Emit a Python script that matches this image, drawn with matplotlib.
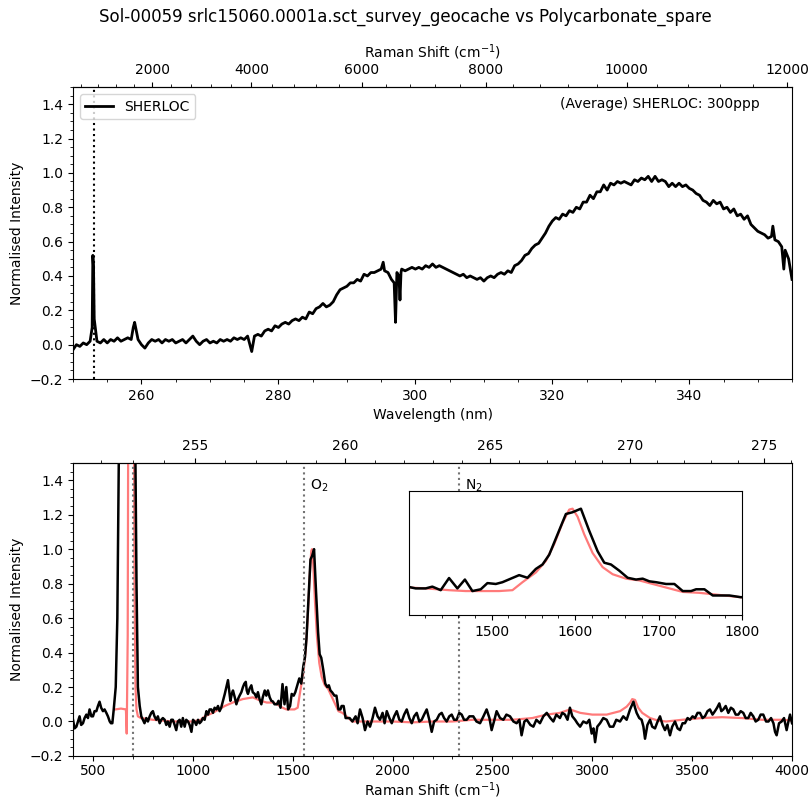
import numpy as np
import matplotlib
matplotlib.use("Agg")
import matplotlib.pyplot as plt
from matplotlib.ticker import MultipleLocator, AutoMinorLocator, FixedLocator

LASER_NM = 248.6

title_text = "Sol-00059 srlc15060.0001a.sct_survey_geocache vs Polycarbonate_spare"
annot_text = "(Average) SHERLOC: 300ppp"

# ---- top panel: SHERLOC survey spectrum (wavelength nm, normalised intensity)
top_spectrum = [
    (250.0, -0.03), (250.5, 0.00), (251.0, -0.01), (251.5, 0.01), (252.0, 0.00), (252.5, 0.02),
    (252.8, 0.10), (252.9, 0.52), (253.0, 0.45), (253.1, 0.15),
    (253.5, 0.02), (254.0, 0.01), (254.5, 0.03), (255.0, 0.01), (255.5, 0.03), (256.0, 0.02),
    (256.5, 0.04), (257.0, 0.02), (257.5, 0.03), (258.0, 0.04), (258.5, 0.03),
    (258.8, 0.10), (259.0, 0.13), (259.3, 0.07),
    (259.5, 0.03), (260.0, 0.00), (260.5, -0.02), (261.0, 0.01), (261.5, 0.03), (262.0, 0.02),
    (262.5, 0.03), (263.0, 0.01), (263.5, 0.03), (264.0, 0.02), (264.5, 0.03), (265.0, 0.01),
    (265.5, 0.02), (266.0, 0.03), (266.5, 0.01), (267.0, 0.03), (267.5, 0.05), (268.0, 0.02),
    (268.5, 0.00), (269.0, 0.02), (269.5, 0.03), (270.0, 0.01), (270.5, 0.02), (271.0, 0.01),
    (271.5, 0.03), (272.0, 0.02), (272.5, 0.03), (273.0, 0.02), (273.5, 0.04), (274.0, 0.03),
    (274.5, 0.04), (275.0, 0.03), (275.5, 0.05), (276.1, -0.04), (276.5, 0.05), (277.0, 0.06),
    (277.5, 0.05), (278.0, 0.08), (278.5, 0.09), (279.0, 0.08), (279.5, 0.11), (280.0, 0.10),
    (280.5, 0.12), (281.0, 0.13), (281.5, 0.12), (282.0, 0.14), (282.5, 0.15), (283.0, 0.14),
    (283.5, 0.16), (284.0, 0.15), (284.5, 0.19), (285.0, 0.18), (285.5, 0.21), (286.0, 0.22),
    (286.5, 0.24), (287.0, 0.22), (287.5, 0.23), (288.0, 0.25), (288.5, 0.29), (289.0, 0.32),
    (289.5, 0.33), (290.0, 0.34), (290.5, 0.36), (291.0, 0.36), (291.5, 0.38), (292.0, 0.37),
    (292.5, 0.41), (293.0, 0.40), (293.5, 0.42), (294.0, 0.42), (294.5, 0.43), (295.0, 0.44),
    (295.3, 0.48), (295.5, 0.43), (296.0, 0.42), (296.5, 0.38), (296.9, 0.36), (297.1, 0.13),
    (297.3, 0.42), (297.6, 0.40), (297.75, 0.26), (297.9, 0.42), (298.0, 0.44), (298.5, 0.43),
    (299.0, 0.44), (299.5, 0.45), (300.0, 0.44), (300.5, 0.45), (301.0, 0.44), (301.5, 0.46),
    (302.0, 0.45), (302.5, 0.47), (303.0, 0.45), (303.5, 0.46), (304.0, 0.45), (304.5, 0.44),
    (305.0, 0.43), (305.5, 0.42), (306.0, 0.41), (306.5, 0.40), (307.0, 0.41), (307.5, 0.39),
    (308.0, 0.40), (308.5, 0.39), (309.0, 0.38), (309.5, 0.39), (310.0, 0.37), (310.5, 0.39),
    (311.0, 0.40), (311.5, 0.39), (312.0, 0.41), (312.5, 0.42), (313.0, 0.41), (313.5, 0.43),
    (314.0, 0.42), (314.5, 0.46), (315.0, 0.47), (315.5, 0.49), (316.0, 0.52), (316.5, 0.53),
    (317.0, 0.56), (317.5, 0.58), (318.0, 0.59), (318.5, 0.62), (319.0, 0.65), (319.5, 0.69),
    (320.0, 0.72), (320.5, 0.74), (321.0, 0.73), (321.5, 0.76), (322.0, 0.75), (322.5, 0.78),
    (323.0, 0.77), (323.5, 0.80), (324.0, 0.79), (324.5, 0.83), (325.0, 0.83), (325.5, 0.87),
    (326.0, 0.85), (326.5, 0.89), (327.0, 0.89), (327.5, 0.93), (328.0, 0.90), (328.5, 0.94),
    (329.0, 0.93), (329.5, 0.95), (330.0, 0.94), (330.5, 0.95), (331.0, 0.94), (331.5, 0.93),
    (332.0, 0.96), (332.5, 0.95), (333.0, 0.97), (333.5, 0.96), (334.0, 0.98), (334.5, 0.95),
    (335.0, 0.98), (335.5, 0.95), (336.0, 0.96), (336.5, 0.95), (337.0, 0.92), (337.5, 0.94),
    (338.0, 0.92), (338.5, 0.94), (339.0, 0.92), (339.5, 0.93), (340.0, 0.91), (340.5, 0.90),
    (341.0, 0.88), (341.5, 0.87), (342.0, 0.84), (342.5, 0.83), (343.0, 0.81), (343.5, 0.84),
    (344.0, 0.82), (344.5, 0.83), (345.0, 0.79), (345.5, 0.80), (346.0, 0.77), (346.5, 0.79),
    (347.0, 0.75), (347.5, 0.76), (348.0, 0.73), (348.5, 0.75), (349.0, 0.70), (349.5, 0.68),
    (350.0, 0.66), (350.5, 0.65), (351.0, 0.64), (351.5, 0.62), (352.0, 0.63), (352.2, 0.69),
    (352.5, 0.61), (353.0, 0.60), (353.5, 0.57), (353.8, 0.44), (354.0, 0.55), (354.5, 0.50),
    (355.0, 0.38),
]
top_marker_nm = 253.0

# ---- bottom panel: SHERLOC (black) Raman shift cm-1, normalised intensity
sherloc_raman = [
    (400, 0.01), (408, -0.04), (417, -0.03), (425, 0.00), (433, 0.03), (441, -0.02), (450, -0.01),
    (458, 0.02), (467, 0.04), (475, 0.02), (483, 0.07), (492, 0.03), (500, 0.03), (508, 0.06),
    (517, 0.06), (525, 0.09), (533, 0.115), (541, 0.08), (550, 0.06), (558, 0.07), (567, 0.05),
    (575, 0.03), (584, 0.00), (590, -0.01), (597, -0.01), (604, 0.07), (614, 0.20), (622, 0.60),
    (630, 1.60), (640, 2.50), (700, 2.50), (712, 1.60), (718, 0.80), (725, 0.20), (734, 0.09),
    (742, 0.03), (750, 0.01), (758, -0.01), (767, 0.02), (775, 0.00), (784, 0.03), (792, 0.05),
    (800, 0.06), (808, 0.03), (817, 0.01), (825, 0.03), (834, -0.01), (842, 0.01), (850, 0.02),
    (859, 0.01), (867, -0.02), (875, 0.00), (884, -0.03), (892, 0.01), (900, 0.01), (909, -0.02),
    (917, -0.05), (925, 0.00), (934, 0.01), (942, -0.03), (950, 0.02), (959, -0.03), (967, 0.01),
    (976, 0.00), (984, -0.02), (993, -0.06), (1001, 0.01), (1009, 0.00), (1017, -0.02),
    (1026, 0.01), (1034, -0.01), (1042, 0.00), (1050, 0.02), (1059, 0.01), (1068, 0.06),
    (1076, 0.04), (1084, 0.07), (1093, 0.07), (1101, 0.05), (1109, 0.08), (1118, 0.07),
    (1126, 0.09), (1134, 0.06), (1142, 0.08), (1151, 0.12), (1160, 0.16), (1168, 0.20),
    (1176, 0.24), (1182, 0.18), (1188, 0.12), (1195, 0.16), (1201, 0.18), (1210, 0.14),
    (1218, 0.10), (1226, 0.13), (1234, 0.15), (1243, 0.17), (1251, 0.20), (1258, 0.22),
    (1265, 0.23), (1270, 0.18), (1276, 0.16), (1284, 0.19), (1293, 0.21), (1300, 0.17),
    (1310, 0.16), (1318, 0.14), (1326, 0.17), (1334, 0.13), (1343, 0.10), (1350, 0.14),
    (1360, 0.18), (1368, 0.15), (1376, 0.18), (1385, 0.14), (1393, 0.12),
    (1401, 0.116), (1409, 0.10), (1421, 0.10), (1429, 0.12), (1439, 0.08), (1449, 0.217),
    (1459, 0.10), (1468, 0.20), (1477, 0.07), (1487, 0.09), (1495, 0.16), (1505, 0.15),
    (1513, 0.17), (1523, 0.21), (1533, 0.25), (1543, 0.22), (1553, 0.32), (1561, 0.37),
    (1569, 0.48), (1579, 0.71), (1589, 0.94), (1597, 0.96), (1607, 1.00), (1617, 0.75),
    (1627, 0.52), (1635, 0.39), (1643, 0.37), (1653, 0.30), (1663, 0.22), (1673, 0.20),
    (1681, 0.21), (1689, 0.18), (1697, 0.17), (1709, 0.15), (1719, 0.15), (1729, 0.07),
    (1739, 0.07), (1745, 0.09), (1755, 0.09), (1765, 0.02), (1777, 0.02), (1785, 0.02),
    (1799, 0.00),
    (1815, 0.03), (1825, -0.01), (1837, 0.07), (1850, 0.02), (1862, -0.05), (1875, 0.00),
    (1887, -0.03), (1900, 0.02), (1912, 0.08), (1925, 0.03), (1937, 0.01), (1950, 0.05),
    (1960, -0.01), (1971, 0.06), (1984, 0.02), (1996, -0.01), (2008, 0.03), (2021, 0.06),
    (2034, 0.01), (2046, 0.00), (2058, 0.04), (2071, 0.07), (2084, 0.02), (2096, -0.01),
    (2108, 0.03), (2121, 0.05), (2134, 0.00), (2146, 0.01), (2158, 0.04), (2171, 0.07),
    (2184, 0.01), (2196, -0.06), (2208, 0.00), (2221, 0.01), (2234, 0.04), (2246, 0.05),
    (2258, 0.02), (2271, 0.00), (2284, 0.03), (2296, 0.04), (2308, 0.01), (2321, 0.01),
    (2334, 0.05), (2346, 0.04), (2358, 0.01), (2371, 0.01), (2385, 0.03), (2404, 0.03),
    (2420, 0.00), (2438, -0.01), (2455, 0.03), (2471, 0.07), (2485, 0.02), (2496, -0.05),
    (2510, 0.01), (2521, 0.06), (2538, 0.02), (2555, 0.01), (2570, 0.04), (2588, 0.03),
    (2605, 0.00), (2621, -0.01), (2635, 0.01), (2646, -0.08), (2660, 0.00), (2672, 0.01),
    (2690, -0.02), (2705, -0.03), (2720, 0.01), (2738, -0.01), (2755, 0.03), (2772, 0.05),
    (2790, 0.02), (2805, 0.00), (2820, 0.04), (2838, 0.02), (2850, 0.05), (2863, 0.04),
    (2876, 0.01), (2888, 0.08), (2900, 0.03), (2914, 0.01), (2925, -0.01), (2939, -0.03),
    (2955, 0.00), (2972, -0.01), (2985, 0.01), (2997, -0.07), (3006, -0.04), (3014, -0.12),
    (3025, -0.03), (3039, -0.01), (3055, 0.02), (3072, 0.01), (3088, -0.03), (3105, -0.03),
    (3120, 0.01), (3139, 0.00), (3155, 0.03), (3172, 0.01), (3189, 0.07), (3206, 0.115),
    (3214, 0.08), (3222, 0.05), (3235, 0.02), (3247, 0.01), (3256, -0.03), (3264, -0.10),
    (3276, -0.02), (3289, 0.01), (3300, -0.03), (3314, -0.04), (3327, 0.00), (3339, 0.03),
    (3352, -0.02), (3364, -0.05), (3376, -0.02), (3389, -0.08), (3400, -0.03), (3414, 0.00),
    (3427, -0.04), (3439, -0.05), (3452, -0.01), (3464, -0.01), (3477, 0.02), (3489, 0.01),
    (3502, 0.03), (3514, 0.02), (3527, 0.05), (3539, 0.05), (3552, 0.02), (3564, 0.03),
    (3577, 0.06), (3589, 0.07), (3602, 0.04), (3614, 0.06), (3625, 0.08), (3636, 0.105),
    (3646, 0.06), (3656, 0.07), (3668, 0.09), (3681, 0.05), (3694, 0.08), (3706, 0.07),
    (3718, 0.04), (3731, 0.04), (3743, 0.06), (3756, 0.05), (3768, 0.02), (3781, 0.02),
    (3793, 0.05), (3806, 0.03), (3818, 0.00), (3831, 0.01), (3843, 0.04), (3856, 0.04),
    (3870, 0.00), (3882, 0.00), (3895, 0.02), (3907, -0.01), (3915, -0.06), (3923, -0.08),
    (3935, -0.01), (3948, 0.00), (3960, 0.02), (3973, -0.05), (3982, 0.00), (3990, 0.04),
    (4000, -0.01),
]

# ---- bottom panel: Polycarbonate reference (red)
reference_raman = [
    (612, 0.07), (640, 0.075), (665, 0.07), (669, -0.07), (674, 0.5), (678, 2.5), (703, 2.5),
    (708, 0.8), (713, 0.2), (718, 0.07), (725, 0.03), (740, 0.02), (800, 0.01), (900, 0.00),
    (1000, 0.00), (1040, 0.01), (1060, 0.03), (1080, 0.04), (1100, 0.05), (1130, 0.07),
    (1160, 0.09), (1200, 0.11), (1250, 0.13), (1300, 0.14), (1340, 0.12), (1370, 0.11),
    (1401, 0.11), (1421, 0.10), (1449, 0.08), (1469, 0.07), (1489, 0.07), (1509, 0.07),
    (1525, 0.08), (1537, 0.17), (1553, 0.28), (1565, 0.41), (1575, 0.60), (1585, 0.84),
    (1593, 0.99), (1597, 1.00), (1603, 0.91), (1611, 0.71), (1621, 0.50), (1633, 0.34),
    (1645, 0.26), (1661, 0.21), (1677, 0.19), (1701, 0.13), (1729, 0.06), (1749, 0.05),
    (1769, 0.03), (1799, 0.00),
    (1820, 0.00), (1900, 0.00), (2000, 0.00), (2100, -0.005), (2200, 0.00), (2300, 0.00),
    (2400, 0.01), (2500, 0.01), (2600, 0.01), (2700, 0.02), (2770, 0.04), (2838, 0.05),
    (2888, 0.07), (2940, 0.05), (3000, 0.04), (3072, 0.04), (3139, 0.06), (3172, 0.086),
    (3190, 0.11), (3200, 0.13), (3214, 0.125), (3230, 0.08), (3250, 0.05), (3289, 0.02),
    (3330, 0.005), (3370, 0.00), (3450, 0.01), (3550, 0.02), (3650, 0.025), (3750, 0.02),
    (3850, 0.01), (3950, 0.01), (4000, 0.005),
]

bottom_markers = [700, 1555, 2331]
marker_labels = [("O$_2$", 1555), ("N$_2$", 2331)]
inset_ticks = [1500, 1600, 1700, 1800]
top_shift_ticks = [2000, 4000, 6000, 8000, 10000, 12000]
bottom_wl_ticks = [255, 260, 265, 270, 275]

# ---------------------------------------------------------------------------
top_wl, top_int = np.array(top_spectrum).T
sh_x, sh_y = np.array(sherloc_raman).T
ref_x, ref_y = np.array(reference_raman).T


def wl_to_shift(wl):
    wl = np.asarray(wl, dtype=float)
    with np.errstate(divide="ignore", invalid="ignore"):
        return 1e7 / LASER_NM - 1e7 / wl


def shift_to_wl(shift):
    shift = np.asarray(shift, dtype=float)
    with np.errstate(divide="ignore", invalid="ignore"):
        return 1e7 / (1e7 / LASER_NM - shift)


plt.rcParams["font.family"] = ["DejaVu Sans"]
plt.rcParams["font.size"] = 10

fig = plt.figure(figsize=(8.11, 8.02), dpi=100)
fig.suptitle(title_text, fontsize=12, y=1 - 8 / 802, va="top")

BLACK = "k"
RED = (1.0, 0.35, 0.35, 0.8)

# --- top axes
ax1 = fig.add_axes([0.0900, 0.5274, 0.8866, 0.3641])
ax1.plot(top_wl, top_int, color=BLACK, lw=2.0, label="SHERLOC")
ax1.axvline(top_marker_nm, color="k", ls=":", lw=1.5)
ax1.set_xlim(250, 355)
ax1.set_ylim(-0.2, 1.5)
ax1.xaxis.set_major_locator(MultipleLocator(20))
ax1.xaxis.set_minor_locator(MultipleLocator(5))
ax1.yaxis.set_major_locator(MultipleLocator(0.2))
ax1.yaxis.set_minor_locator(AutoMinorLocator(4))
ax1.set_xlabel("Wavelength (nm)")
ax1.set_ylabel("Normalised Intensity")
ax1.legend(loc="upper left", fontsize=10)
ax1.text(0.955, 0.965, annot_text, transform=ax1.transAxes, ha="right", va="top", fontsize=10)
sec1 = ax1.secondary_xaxis("top", functions=(wl_to_shift, shift_to_wl))
sec1.xaxis.set_major_locator(FixedLocator(top_shift_ticks))
sec1.xaxis.set_minor_locator(MultipleLocator(400))
sec1.set_xlabel("Raman Shift (cm$^{-1}$)")

# --- bottom axes
ax2 = fig.add_axes([0.0900, 0.0574, 0.8866, 0.3653])
ax2.plot(ref_x, ref_y, color=RED, lw=1.6)
ax2.plot(sh_x, sh_y, color=BLACK, lw=1.8)
for xm in bottom_markers:
    ax2.axvline(xm, color="0.45", ls=":", lw=1.5)
for lab, xm in marker_labels:
    ax2.text(xm + 30, 1.37, lab, ha="left", va="center", fontsize=10)
ax2.set_xlim(400, 4000)
ax2.set_ylim(-0.2, 1.5)
ax2.xaxis.set_major_locator(MultipleLocator(500))
ax2.xaxis.set_minor_locator(MultipleLocator(100))
ax2.yaxis.set_major_locator(MultipleLocator(0.2))
ax2.yaxis.set_minor_locator(AutoMinorLocator(4))
ax2.tick_params(axis="x", pad=2.5)
ax2.set_xlabel("Raman Shift (cm$^{-1}$)")
ax2.xaxis.set_label_coords(0.5, -0.083)
ax2.set_ylabel("Normalised Intensity")
sec2 = ax2.secondary_xaxis("top", functions=(shift_to_wl, wl_to_shift))
sec2.xaxis.set_major_locator(FixedLocator(bottom_wl_ticks))
sec2.xaxis.set_minor_locator(MultipleLocator(1))

# --- inset
axin = fig.add_axes([0.5043, 0.2332, 0.4106, 0.1546])
axin.set_facecolor("white")
axin.plot(ref_x, ref_y, color=RED, lw=1.6)
axin.plot(sh_x, sh_y, color=BLACK, lw=1.8)
axin.set_xlim(1401, 1800)
axin.set_ylim(-0.2, 1.2)
axin.xaxis.set_major_locator(FixedLocator(inset_ticks))
axin.xaxis.set_minor_locator(MultipleLocator(20))
axin.set_yticks([])
axin.set_zorder(5)

fig.savefig("out.png", dpi=100)
